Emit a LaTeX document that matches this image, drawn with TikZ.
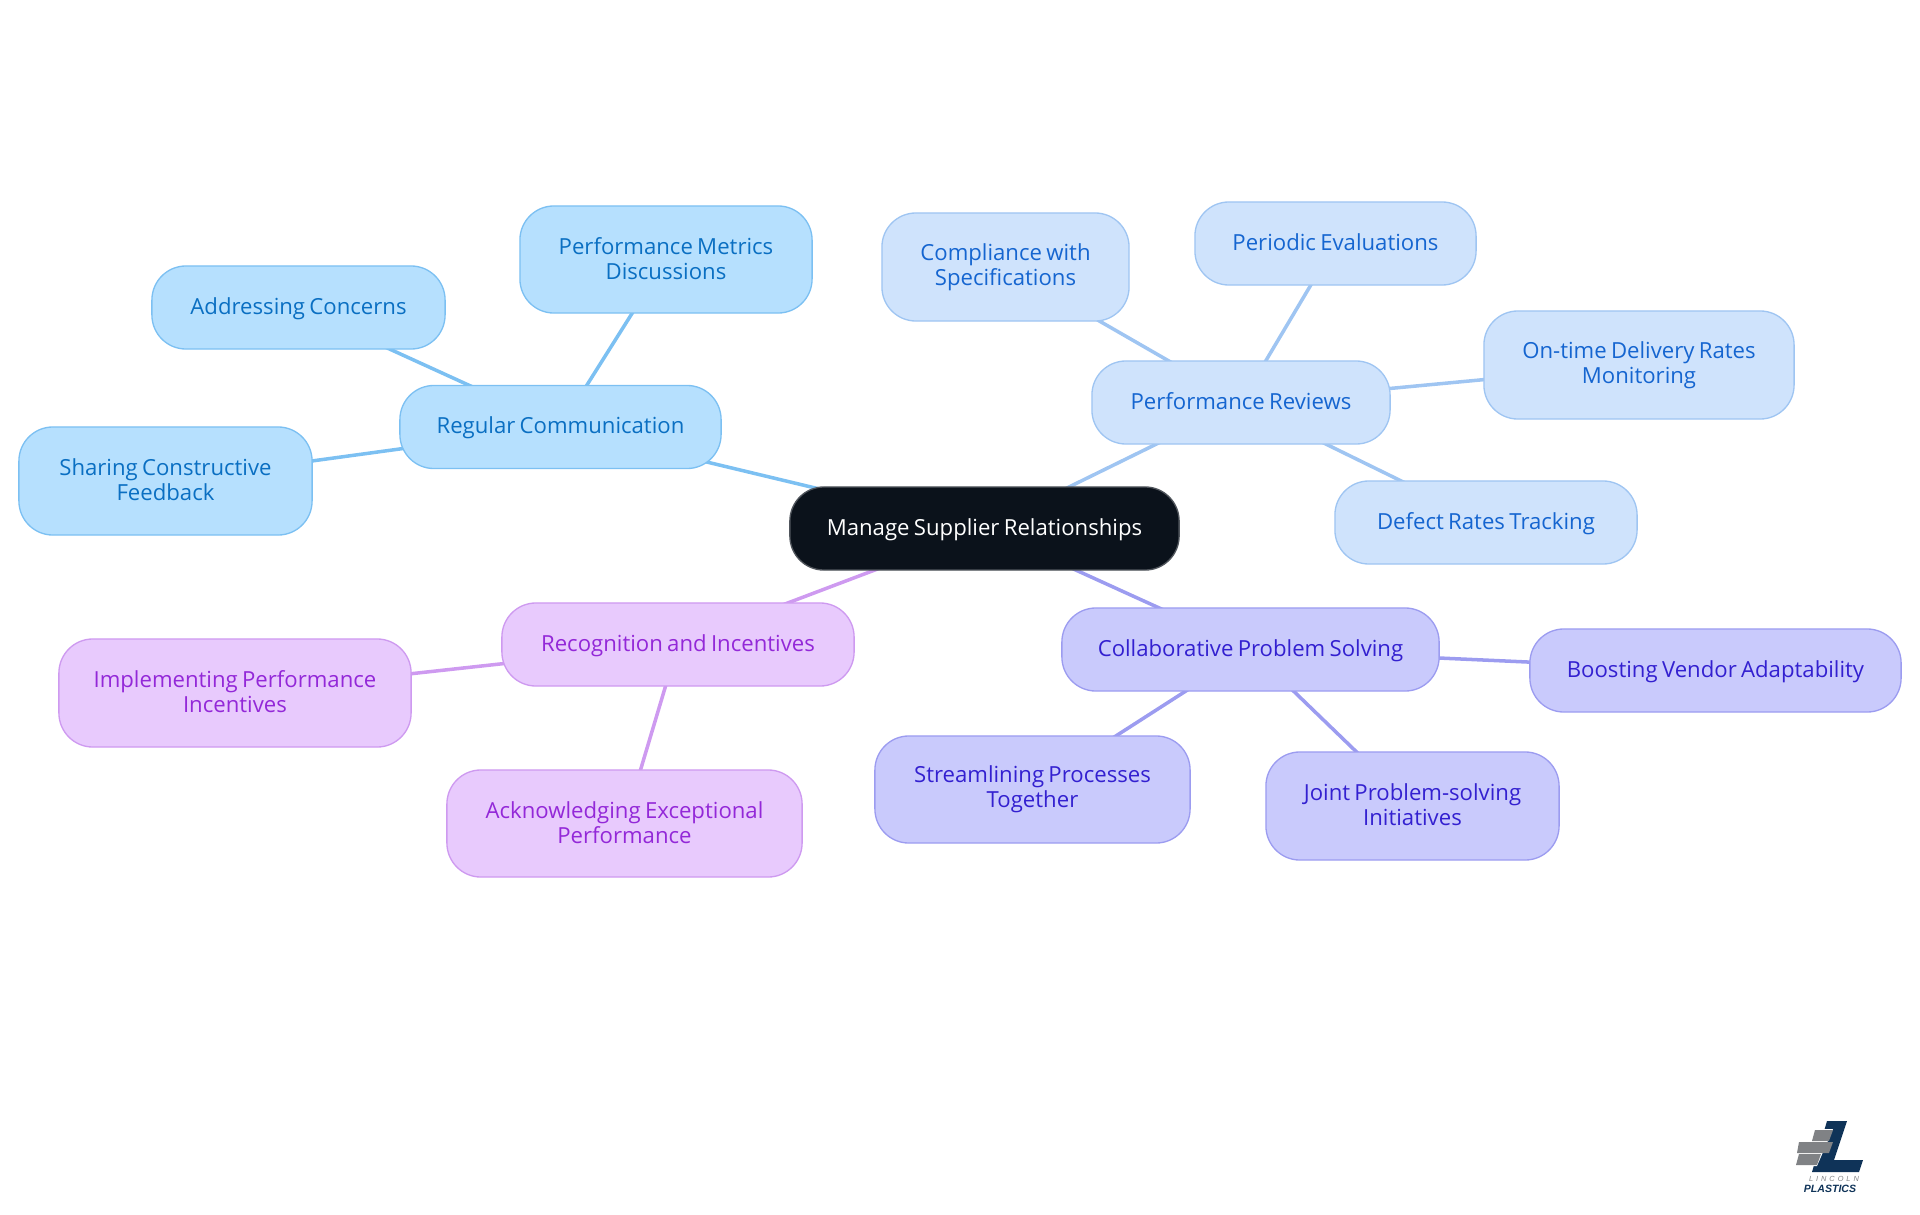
\documentclass[tikz,border=0pt]{standalone}
\usepackage{fontspec}
\setmainfont[WordSpace=0.75]{Open Sans}
\newfontfamily\logofont[LetterSpace=40]{Liberation Sans}
\newfontfamily\logobold{Liberation Sans}
\usepackage{xcolor}
\definecolor{RootDark}{HTML}{0B121B}
\definecolor{RootEdge}{HTML}{50555C}
\definecolor{CommFill}{HTML}{B6E0FE}
\definecolor{CommLine}{HTML}{7CC0F2}
\definecolor{CommText}{HTML}{0A6FC2}
\definecolor{ReviewFill}{HTML}{CFE3FC}
\definecolor{ReviewLine}{HTML}{9FC5F2}
\definecolor{ReviewText}{HTML}{1565D0}
\definecolor{SolveFill}{HTML}{C9CAFC}
\definecolor{SolveLine}{HTML}{9C9CF0}
\definecolor{SolveText}{HTML}{3320D0}
\definecolor{RewardFill}{HTML}{E8CAFD}
\definecolor{RewardLine}{HTML}{CE9AF0}
\definecolor{RewardText}{HTML}{9328D8}
\definecolor{LogoBlue}{HTML}{0F3358}
\definecolor{LogoGray}{HTML}{808285}
\usepackage{tikz}
\usetikzlibrary{backgrounds}

\tikzset{
  mindbox/.style={rounded corners=3.4mm, line width=0.38pt, inner sep=0pt, align=center,
    font=\fontsize{6.3}{7.1}\selectfont, execute at end node={\rule[-0.7pt]{0pt}{0.7pt}}},
  oneline/.style={minimum height=0.83cm, text height=5.1pt, text depth=1.4pt},
  rootbox/.style={mindbox, draw=RootEdge, fill=RootDark, text=white},
  commbox/.style={mindbox, draw=CommLine, fill=CommFill, text=CommText},
  reviewbox/.style={mindbox, draw=ReviewLine, fill=ReviewFill, text=ReviewText},
  solvebox/.style={mindbox, draw=SolveLine, fill=SolveFill, text=SolveText},
  rewardbox/.style={mindbox, draw=RewardLine, fill=RewardFill, text=RewardText},
  branch/.style={line width=1pt},
  logobar/.style={fill=LogoGray, draw=none}
}

\begin{document}
\begin{tikzpicture}[x=0.01cm, y=-0.01cm]
    \useasboundingbox (0,0) rectangle (1920,1215);

    % Draw root
    \node[rootbox, oneline, minimum width=3.89cm] (root) at (984.5,528.5) {Manage Supplier Relationships};

    % Draw Regular Communication group
    \node[commbox, oneline, minimum width=3.21cm] (comm) at (560.5,427) {Regular Communication};
    \node[commbox, minimum width=2.92cm, minimum height=1.07cm] (metrics) at (666,259.5) {Performance Metrics\\Discussions};
    \node[commbox, oneline, minimum width=2.93cm] (concerns) at (298.5,307.5) {Addressing Concerns};
    \node[commbox, minimum width=2.93cm, minimum height=1.08cm] (feedback) at (165.5,481) {Sharing Constructive\\Feedback};

    % Draw Performance Reviews group
    \node[reviewbox, oneline, minimum width=2.98cm] (reviews) at (1241,402.5) {Performance Reviews};
    \node[reviewbox, minimum width=2.47cm, minimum height=1.08cm] (compliance) at (1005.5,267) {Compliance with\\Specifications};
    \node[reviewbox, oneline, minimum width=2.81cm] (periodic) at (1335.5,243.5) {Periodic Evaluations};
    \node[reviewbox, minimum width=3.10cm, minimum height=1.08cm] (ontime) at (1639,365) {On-time Delivery Rates\\Monitoring};
    \node[reviewbox, oneline, minimum width=3.02cm] (defect) at (1486,522.5) {Defect Rates Tracking};

    % Draw Collaborative Problem Solving group
    \node[solvebox, oneline, minimum width=3.77cm] (solving) at (1250.5,649.5) {Collaborative Problem Solving};
    \node[solvebox, oneline, minimum width=3.71cm] (vendor) at (1715.5,670.5) {Boosting Vendor Adaptability};
    \node[solvebox, minimum width=3.15cm, minimum height=1.07cm] (streamline) at (1032.5,789.5) {Streamlining Processes\\Together};
    \node[solvebox, minimum width=2.93cm, minimum height=1.08cm] (joint) at (1412.5,806) {Joint Problem-solving\\Initiatives};

    % Draw Recognition and Incentives group
    \node[rewardbox, oneline, minimum width=3.52cm] (reward) at (678,644.5) {Recognition and Incentives};
    \node[rewardbox, minimum width=3.52cm, minimum height=1.08cm] (incentive) at (235,693) {Implementing Performance\\Incentives};
    \node[rewardbox, minimum width=3.55cm, minimum height=1.07cm] (praise) at (624.5,823.5) {Acknowledging Exceptional\\Performance};

    % Draw branches behind the boxes
    \begin{scope}[on background layer]
      \foreach \a/\b/\c in {root/comm/CommLine, comm/metrics/CommLine, comm/concerns/CommLine, comm/feedback/CommLine,
        root/reviews/ReviewLine, reviews/compliance/ReviewLine, reviews/periodic/ReviewLine, reviews/ontime/ReviewLine, reviews/defect/ReviewLine,
        root/solving/SolveLine, solving/vendor/SolveLine, solving/streamline/SolveLine, solving/joint/SolveLine,
        root/reward/RewardLine, reward/incentive/RewardLine, reward/praise/RewardLine} {
        \draw[branch, color=\c] (\a.center) -- (\b.center);
      }
    \end{scope}

    % Draw logo
    \fill[LogoBlue] (1827,1121) -- (1847,1121) -- (1834,1160) -- (1863,1160) -- (1859,1172) -- (1812,1172) -- cycle;
    \fill[white] (1833,1129) -- (1815,1129) -- (1797,1153) -- (1795,1166) -- (1817,1166) -- cycle;
    \fill[logobar] (1815,1130) -- (1833,1130) -- (1829,1141) -- (1812,1141) -- cycle;
    \fill[logobar] (1799,1142) -- (1833,1142) -- (1829,1153) -- (1797,1153) -- cycle;
    \fill[logobar] (1799,1154) -- (1821,1154) -- (1817,1165) -- (1796,1165) -- cycle;
    \node[font=\logofont\itshape\fontsize{2.1}{2.1}\selectfont, text=LogoGray, inner sep=0pt] (lincoln) at (1834,1178.5) {LINCOLN};
    \node[font=\logobold\bfseries\itshape\fontsize{3.0}{3.0}\selectfont, text=LogoBlue, inner sep=0pt] (plastics) at (1830,1188.5) {PLASTICS};
\end{tikzpicture}
\end{document}
